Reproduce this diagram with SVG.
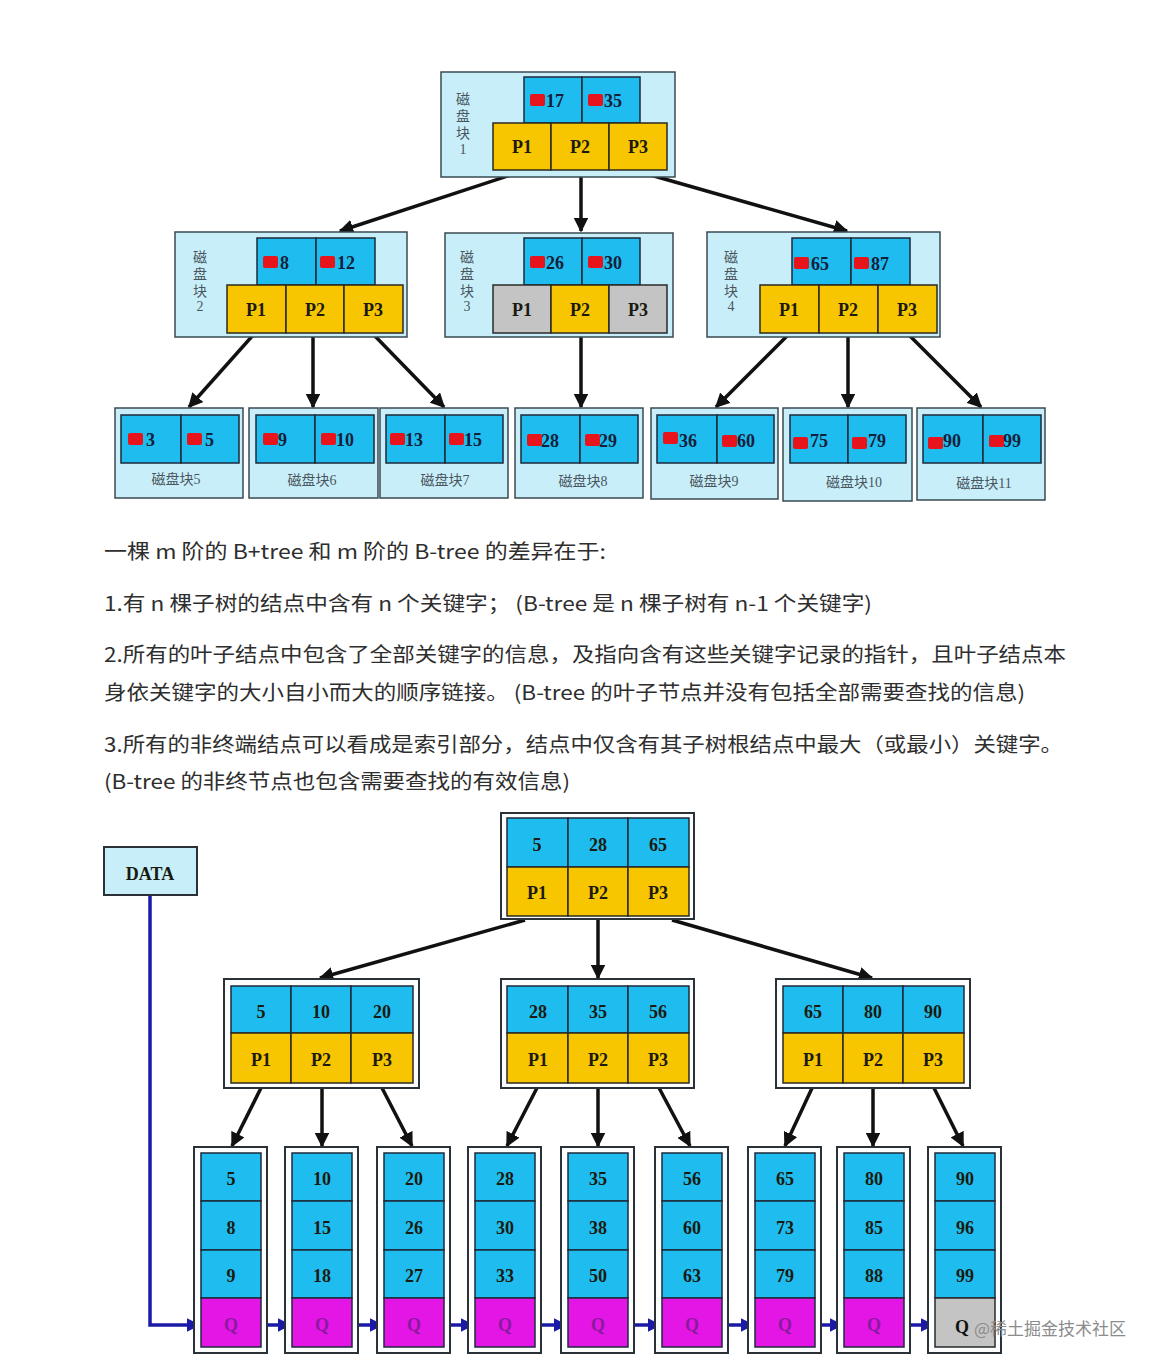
<svg xmlns="http://www.w3.org/2000/svg" width="1162" height="1372" viewBox="0 0 1162 1372">
<defs>
<style>
.bg{fill:#ffffff}
.outer{fill:#c8eff9;stroke:#3a4a50;stroke-width:1.5}
.wouter{fill:#fbfdff;stroke:#2a3238;stroke-width:2}
.key{fill:#1fbdef;stroke:#1e2a3a;stroke-width:1.5}
.ptr{fill:#f7c600;stroke:#2a2a20;stroke-width:1.5}
.gry{fill:#c4c4c4;stroke:#2a2a2a;stroke-width:1.5}
.q{fill:#e316e6;stroke:#1e2a3a;stroke-width:1.5}
.red{fill:#e8141c}
.num{font-family:"Liberation Serif",serif;font-weight:bold;font-size:18px;fill:#14203a}
.pl{font-family:"Liberation Serif",serif;font-weight:bold;font-size:18px;fill:#1a1a10;text-anchor:middle}
.cn{font-family:"Liberation Serif","Noto Sans CJK SC",serif;font-size:14px;fill:#4a5560;text-anchor:middle}
.body{font-family:"Noto Sans CJK SC","Liberation Sans",sans-serif;font-size:20px;fill:#2e2e2e}
.qt{font-family:"Liberation Serif",serif;font-weight:bold;font-size:18px;fill:#8a1a9c;text-anchor:middle}
.ar{stroke:#111111;stroke-width:3.5;fill:none;marker-end:url(#ah)}
.bl{stroke:#1a1aa6;stroke-width:3.5;fill:none;marker-end:url(#bh)}
</style>
<marker id="ah" viewBox="0 0 10 10" refX="9" refY="5" markerWidth="4.2" markerHeight="4.2" orient="auto" markerUnits="strokeWidth"><path d="M0,0 L10,5 L0,10 z" fill="#111111"/></marker>
<marker id="bh" viewBox="0 0 10 10" refX="9" refY="5" markerWidth="3.8" markerHeight="3.8" orient="auto" markerUnits="strokeWidth"><path d="M0,0 L10,5 L0,10 z" fill="#1a1aa6"/></marker>
</defs>
<rect class="bg" x="0" y="0" width="1162" height="1372"/>

<!-- ===== Top B-tree ===== -->
<g id="connectors-top">
<line class="ar" x1="520" y1="172" x2="340" y2="231"/>
<line class="ar" x1="581" y1="170" x2="581" y2="231"/>
<line class="ar" x1="640" y1="172" x2="847" y2="231"/>
<line class="ar" x1="255" y1="333" x2="189" y2="407"/>
<line class="ar" x1="313" y1="333" x2="313" y2="407"/>
<line class="ar" x1="372" y1="333" x2="444" y2="407"/>
<line class="ar" x1="581" y1="333" x2="581" y2="407"/>
<line class="ar" x1="790" y1="333" x2="716" y2="407"/>
<line class="ar" x1="848" y1="333" x2="848" y2="407"/>
<line class="ar" x1="907" y1="333" x2="981" y2="407"/>
</g>

<g id="disk1">
<rect class="outer" x="441" y="72" width="234" height="105"/>
<text class="cn" x="463" y="104">磁</text><text class="cn" x="463" y="121">盘</text><text class="cn" x="463" y="138">块</text><text class="cn" x="463" y="154">1</text>
<rect class="key" x="524" y="77" width="58" height="46"/><rect class="key" x="582" y="77" width="58" height="46"/>
<rect class="red" x="530" y="94" width="15" height="12" rx="2"/><text class="num" x="546" y="107">17</text>
<rect class="red" x="588" y="94" width="15" height="12" rx="2"/><text class="num" x="604" y="107">35</text>
<rect class="ptr" x="493" y="123" width="58" height="47"/><rect class="ptr" x="551" y="123" width="58" height="47"/><rect class="ptr" x="609" y="123" width="58" height="47"/>
<text class="pl" x="522" y="153">P1</text><text class="pl" x="580" y="153">P2</text><text class="pl" x="638" y="153">P3</text>
</g>

<g id="disk2">
<rect class="outer" x="175" y="232" width="232" height="105"/>
<text class="cn" x="200" y="262">磁</text><text class="cn" x="200" y="279">盘</text><text class="cn" x="200" y="296">块</text><text class="cn" x="200" y="311">2</text>
<rect class="key" x="257" y="238" width="59" height="47"/><rect class="key" x="316" y="238" width="59" height="47"/>
<rect class="red" x="263" y="256" width="15" height="12" rx="2"/><text class="num" x="280" y="269">8</text>
<rect class="red" x="320" y="256" width="15" height="12" rx="2"/><text class="num" x="337" y="269">12</text>
<rect class="ptr" x="227" y="285" width="59" height="48"/><rect class="ptr" x="286" y="285" width="58" height="48"/><rect class="ptr" x="344" y="285" width="59" height="48"/>
<text class="pl" x="256" y="316">P1</text><text class="pl" x="315" y="316">P2</text><text class="pl" x="373" y="316">P3</text>
</g>

<g id="disk3">
<rect class="outer" x="445" y="233" width="228" height="104"/>
<text class="cn" x="467" y="262">磁</text><text class="cn" x="467" y="279">盘</text><text class="cn" x="467" y="296">块</text><text class="cn" x="467" y="311">3</text>
<rect class="key" x="524" y="238" width="58" height="47"/><rect class="key" x="582" y="238" width="58" height="47"/>
<rect class="red" x="530" y="256" width="15" height="12" rx="2"/><text class="num" x="546" y="269">26</text>
<rect class="red" x="588" y="256" width="15" height="12" rx="2"/><text class="num" x="604" y="269">30</text>
<rect class="gry" x="493" y="285" width="58" height="48"/><rect class="ptr" x="551" y="285" width="58" height="48"/><rect class="gry" x="609" y="285" width="58" height="48"/>
<text class="pl" x="522" y="316">P1</text><text class="pl" x="580" y="316">P2</text><text class="pl" x="638" y="316">P3</text>
</g>

<g id="disk4">
<rect class="outer" x="707" y="232" width="233" height="105"/>
<text class="cn" x="731" y="262">磁</text><text class="cn" x="731" y="279">盘</text><text class="cn" x="731" y="296">块</text><text class="cn" x="731" y="311">4</text>
<rect class="key" x="792" y="238" width="59" height="47"/><rect class="key" x="851" y="238" width="59" height="47"/>
<rect class="red" x="794" y="257" width="15" height="12" rx="2"/><text class="num" x="811" y="270">65</text>
<rect class="red" x="854" y="257" width="15" height="12" rx="2"/><text class="num" x="871" y="270">87</text>
<rect class="ptr" x="760" y="285" width="59" height="48"/><rect class="ptr" x="819" y="285" width="59" height="48"/><rect class="ptr" x="878" y="285" width="59" height="48"/>
<text class="pl" x="789" y="316">P1</text><text class="pl" x="848" y="316">P2</text><text class="pl" x="907" y="316">P3</text>
</g>

<g id="disk5">
<rect class="outer" x="115" y="408" width="128" height="90"/>
<rect class="key" x="121" y="415" width="60" height="48"/><rect class="key" x="181" y="415" width="58" height="48"/>
<rect class="red" x="128" y="433" width="15" height="12" rx="2"/><text class="num" x="146" y="446">3</text>
<rect class="red" x="187" y="433" width="15" height="12" rx="2"/><text class="num" x="205" y="446">5</text>
<text class="cn" x="176" y="484">磁盘块5</text>
</g>
<g id="disk6">
<rect class="outer" x="249" y="408" width="129" height="90"/>
<rect class="key" x="256" y="415" width="59" height="48"/><rect class="key" x="315" y="415" width="59" height="48"/>
<rect class="red" x="263" y="433" width="15" height="12" rx="2"/><text class="num" x="278" y="446">9</text>
<rect class="red" x="321" y="433" width="15" height="12" rx="2"/><text class="num" x="336" y="446">10</text>
<text class="cn" x="312" y="485">磁盘块6</text>
</g>
<g id="disk7">
<rect class="outer" x="380" y="408" width="128" height="90"/>
<rect class="key" x="386" y="415" width="59" height="48"/><rect class="key" x="445" y="415" width="58" height="48"/>
<rect class="red" x="390" y="433" width="15" height="12" rx="2"/><text class="num" x="405" y="446">13</text>
<rect class="red" x="449" y="433" width="15" height="12" rx="2"/><text class="num" x="464" y="446">15</text>
<text class="cn" x="445" y="485">磁盘块7</text>
</g>
<g id="disk8">
<rect class="outer" x="515" y="408" width="128" height="90"/>
<rect class="key" x="521" y="415" width="59" height="48"/><rect class="key" x="580" y="415" width="58" height="48"/>
<rect class="red" x="527" y="434" width="15" height="12" rx="2"/><text class="num" x="541" y="447">28</text>
<rect class="red" x="585" y="434" width="15" height="12" rx="2"/><text class="num" x="599" y="447">29</text>
<text class="cn" x="583" y="486">磁盘块8</text>
</g>
<g id="disk9">
<rect class="outer" x="651" y="408" width="127" height="91"/>
<rect class="key" x="657" y="415" width="60" height="48"/><rect class="key" x="717" y="415" width="57" height="48"/>
<rect class="red" x="663" y="432" width="15" height="12" rx="2"/><text class="num" x="679" y="447">36</text>
<rect class="red" x="722" y="435" width="15" height="12" rx="2"/><text class="num" x="737" y="447">60</text>
<text class="cn" x="714" y="486">磁盘块9</text>
</g>
<g id="disk10">
<rect class="outer" x="783" y="408" width="129" height="93"/>
<rect class="key" x="790" y="415" width="58" height="48"/><rect class="key" x="848" y="415" width="58" height="48"/>
<rect class="red" x="793" y="437" width="15" height="12" rx="2"/><text class="num" x="810" y="447">75</text>
<rect class="red" x="852" y="437" width="15" height="12" rx="2"/><text class="num" x="868" y="447">79</text>
<text class="cn" x="854" y="487">磁盘块10</text>
</g>
<g id="disk11">
<rect class="outer" x="917" y="408" width="128" height="92"/>
<rect class="key" x="923" y="415" width="60" height="48"/><rect class="key" x="983" y="415" width="58" height="48"/>
<rect class="red" x="928" y="437" width="15" height="12" rx="2"/><text class="num" x="943" y="447">90</text>
<rect class="red" x="989" y="435" width="15" height="12" rx="2"/><text class="num" x="1003" y="447">99</text>
<text class="cn" x="984" y="488">磁盘块11</text>
</g>

<!-- ===== Text ===== -->
<g id="description">
<text class="body" x="104" y="559" textLength="502" lengthAdjust="spacingAndGlyphs">一棵 m 阶的 B+tree 和 m 阶的 B-tree 的差异在于:</text>
<text class="body" x="104" y="611" textLength="768" lengthAdjust="spacingAndGlyphs">1.有 n 棵子树的结点中含有 n 个关键字；  (B-tree 是 n 棵子树有 n-1 个关键字)</text>
<text class="body" x="104" y="662" textLength="962" lengthAdjust="spacingAndGlyphs">2.所有的叶子结点中包含了全部关键字的信息，及指向含有这些关键字记录的指针，且叶子结点本</text>
<text class="body" x="104" y="700" textLength="921" lengthAdjust="spacingAndGlyphs">身依关键字的大小自小而大的顺序链接。 (B-tree 的叶子节点并没有包括全部需要查找的信息)</text>
<text class="body" x="104" y="752" textLength="959" lengthAdjust="spacingAndGlyphs">3.所有的非终端结点可以看成是索引部分，结点中仅含有其子树根结点中最大（或最小）关键字。</text>
<text class="body" x="104" y="789" textLength="466" lengthAdjust="spacingAndGlyphs">(B-tree 的非终节点也包含需要查找的有效信息)</text>
</g>

<!-- ===== Bottom B+tree ===== -->
<g id="connectors-bottom">
<line class="ar" x1="525" y1="920" x2="320" y2="978"/>
<line class="ar" x1="598" y1="920" x2="598" y2="978"/>
<line class="ar" x1="672" y1="920" x2="872" y2="978"/>
<line class="ar" x1="262" y1="1086" x2="232" y2="1146"/>
<line class="ar" x1="322" y1="1088" x2="322" y2="1146"/>
<line class="ar" x1="381" y1="1086" x2="412" y2="1146"/>
<line class="ar" x1="538" y1="1086" x2="507" y2="1146"/>
<line class="ar" x1="598" y1="1088" x2="598" y2="1146"/>
<line class="ar" x1="658" y1="1086" x2="690" y2="1146"/>
<line class="ar" x1="813" y1="1086" x2="785" y2="1146"/>
<line class="ar" x1="873" y1="1088" x2="873" y2="1146"/>
<line class="ar" x1="933" y1="1086" x2="963" y2="1146"/>
<path class="bl" d="M150,895 V1325 H199"/>
<line class="bl" x1="261" y1="1325" x2="290" y2="1325"/>
<line class="bl" x1="352" y1="1325" x2="382" y2="1325"/>
<line class="bl" x1="444" y1="1325" x2="473" y2="1325"/>
<line class="bl" x1="535" y1="1325" x2="566" y2="1325"/>
<line class="bl" x1="628" y1="1325" x2="660" y2="1325"/>
<line class="bl" x1="722" y1="1325" x2="753" y2="1325"/>
<line class="bl" x1="815" y1="1325" x2="842" y2="1325"/>
<line class="bl" x1="904" y1="1325" x2="933" y2="1325"/>
</g>

<g id="data">
<rect class="outer" x="104" y="847" width="93" height="48" style="stroke:#2a3238;stroke-width:2"/>
<text class="pl" x="150" y="880">DATA</text>
</g>

<g id="root">
<rect class="wouter" x="501" y="813" width="193" height="106"/>
<rect class="key" x="507" y="818" width="61" height="49"/><rect class="key" x="568" y="818" width="60" height="49"/><rect class="key" x="628" y="818" width="61" height="49"/>
<rect class="ptr" x="507" y="867" width="61" height="49"/><rect class="ptr" x="568" y="867" width="60" height="49"/><rect class="ptr" x="628" y="867" width="61" height="49"/>
<text class="pl" x="537" y="851">5</text><text class="pl" x="598" y="851">28</text><text class="pl" x="658" y="851">65</text>
<text class="pl" x="537" y="899">P1</text><text class="pl" x="598" y="899">P2</text><text class="pl" x="658" y="899">P3</text>
</g>

<g id="inner1">
<rect class="wouter" x="224" y="979" width="195" height="109"/>
<rect class="key" x="231" y="986" width="60" height="47"/><rect class="key" x="291" y="986" width="60" height="47"/><rect class="key" x="351" y="986" width="62" height="47"/>
<rect class="ptr" x="231" y="1033" width="60" height="50"/><rect class="ptr" x="291" y="1033" width="60" height="50"/><rect class="ptr" x="351" y="1033" width="62" height="50"/>
<text class="pl" x="261" y="1018">5</text><text class="pl" x="321" y="1018">10</text><text class="pl" x="382" y="1018">20</text>
<text class="pl" x="261" y="1066">P1</text><text class="pl" x="321" y="1066">P2</text><text class="pl" x="382" y="1066">P3</text>
</g>
<g id="inner2">
<rect class="wouter" x="501" y="979" width="193" height="109"/>
<rect class="key" x="507" y="986" width="61" height="47"/><rect class="key" x="568" y="986" width="60" height="47"/><rect class="key" x="628" y="986" width="61" height="47"/>
<rect class="ptr" x="507" y="1033" width="61" height="50"/><rect class="ptr" x="568" y="1033" width="60" height="50"/><rect class="ptr" x="628" y="1033" width="61" height="50"/>
<text class="pl" x="538" y="1018">28</text><text class="pl" x="598" y="1018">35</text><text class="pl" x="658" y="1018">56</text>
<text class="pl" x="538" y="1066">P1</text><text class="pl" x="598" y="1066">P2</text><text class="pl" x="658" y="1066">P3</text>
</g>
<g id="inner3">
<rect class="wouter" x="776" y="979" width="194" height="109"/>
<rect class="key" x="783" y="986" width="60" height="47"/><rect class="key" x="843" y="986" width="60" height="47"/><rect class="key" x="903" y="986" width="61" height="47"/>
<rect class="ptr" x="783" y="1033" width="60" height="50"/><rect class="ptr" x="843" y="1033" width="60" height="50"/><rect class="ptr" x="903" y="1033" width="61" height="50"/>
<text class="pl" x="813" y="1018">65</text><text class="pl" x="873" y="1018">80</text><text class="pl" x="933" y="1018">90</text>
<text class="pl" x="813" y="1066">P1</text><text class="pl" x="873" y="1066">P2</text><text class="pl" x="933" y="1066">P3</text>
</g>

<g id="leaf1"><rect class="wouter" x="194" y="1147" width="73" height="206"/>
<rect class="key" x="201" y="1153" width="60" height="48"/><rect class="key" x="201" y="1201" width="60" height="49"/><rect class="key" x="201" y="1250" width="60" height="48"/><rect class="q" x="201" y="1298" width="60" height="49"/>
<text class="pl" x="231" y="1185">5</text><text class="pl" x="231" y="1234">8</text><text class="pl" x="231" y="1282">9</text><text class="qt" x="231" y="1331">Q</text></g>
<g id="leaf2"><rect class="wouter" x="285" y="1147" width="73" height="206"/>
<rect class="key" x="292" y="1153" width="60" height="48"/><rect class="key" x="292" y="1201" width="60" height="49"/><rect class="key" x="292" y="1250" width="60" height="48"/><rect class="q" x="292" y="1298" width="60" height="49"/>
<text class="pl" x="322" y="1185">10</text><text class="pl" x="322" y="1234">15</text><text class="pl" x="322" y="1282">18</text><text class="qt" x="322" y="1331">Q</text></g>
<g id="leaf3"><rect class="wouter" x="377" y="1147" width="73" height="206"/>
<rect class="key" x="384" y="1153" width="60" height="48"/><rect class="key" x="384" y="1201" width="60" height="49"/><rect class="key" x="384" y="1250" width="60" height="48"/><rect class="q" x="384" y="1298" width="60" height="49"/>
<text class="pl" x="414" y="1185">20</text><text class="pl" x="414" y="1234">26</text><text class="pl" x="414" y="1282">27</text><text class="qt" x="414" y="1331">Q</text></g>
<g id="leaf4"><rect class="wouter" x="468" y="1147" width="73" height="206"/>
<rect class="key" x="475" y="1153" width="60" height="48"/><rect class="key" x="475" y="1201" width="60" height="49"/><rect class="key" x="475" y="1250" width="60" height="48"/><rect class="q" x="475" y="1298" width="60" height="49"/>
<text class="pl" x="505" y="1185">28</text><text class="pl" x="505" y="1234">30</text><text class="pl" x="505" y="1282">33</text><text class="qt" x="505" y="1331">Q</text></g>
<g id="leaf5"><rect class="wouter" x="561" y="1147" width="73" height="206"/>
<rect class="key" x="568" y="1153" width="60" height="48"/><rect class="key" x="568" y="1201" width="60" height="49"/><rect class="key" x="568" y="1250" width="60" height="48"/><rect class="q" x="568" y="1298" width="60" height="49"/>
<text class="pl" x="598" y="1185">35</text><text class="pl" x="598" y="1234">38</text><text class="pl" x="598" y="1282">50</text><text class="qt" x="598" y="1331">Q</text></g>
<g id="leaf6"><rect class="wouter" x="655" y="1147" width="73" height="206"/>
<rect class="key" x="662" y="1153" width="60" height="48"/><rect class="key" x="662" y="1201" width="60" height="49"/><rect class="key" x="662" y="1250" width="60" height="48"/><rect class="q" x="662" y="1298" width="60" height="49"/>
<text class="pl" x="692" y="1185">56</text><text class="pl" x="692" y="1234">60</text><text class="pl" x="692" y="1282">63</text><text class="qt" x="692" y="1331">Q</text></g>
<g id="leaf7"><rect class="wouter" x="748" y="1147" width="73" height="206"/>
<rect class="key" x="755" y="1153" width="60" height="48"/><rect class="key" x="755" y="1201" width="60" height="49"/><rect class="key" x="755" y="1250" width="60" height="48"/><rect class="q" x="755" y="1298" width="60" height="49"/>
<text class="pl" x="785" y="1185">65</text><text class="pl" x="785" y="1234">73</text><text class="pl" x="785" y="1282">79</text><text class="qt" x="785" y="1331">Q</text></g>
<g id="leaf8"><rect class="wouter" x="837" y="1147" width="73" height="206"/>
<rect class="key" x="844" y="1153" width="60" height="48"/><rect class="key" x="844" y="1201" width="60" height="49"/><rect class="key" x="844" y="1250" width="60" height="48"/><rect class="q" x="844" y="1298" width="60" height="49"/>
<text class="pl" x="874" y="1185">80</text><text class="pl" x="874" y="1234">85</text><text class="pl" x="874" y="1282">88</text><text class="qt" x="874" y="1331">Q</text></g>
<g id="leaf9"><rect class="wouter" x="928" y="1147" width="73" height="206"/>
<rect class="key" x="935" y="1153" width="60" height="48"/><rect class="key" x="935" y="1201" width="60" height="49"/><rect class="key" x="935" y="1250" width="60" height="48"/><rect class="gry" x="935" y="1298" width="60" height="49"/>
<text class="pl" x="965" y="1185">90</text><text class="pl" x="965" y="1234">96</text><text class="pl" x="965" y="1282">99</text><text class="pl" x="962" y="1333" style="fill:#111">Q</text></g>

<g id="watermark">
<text x="974" y="1335" style="font-family:'Noto Sans CJK SC','Liberation Sans',sans-serif;font-size:17px;fill:#8c8c8c">@稀土掘金技术社区</text>
</g>
</svg>
